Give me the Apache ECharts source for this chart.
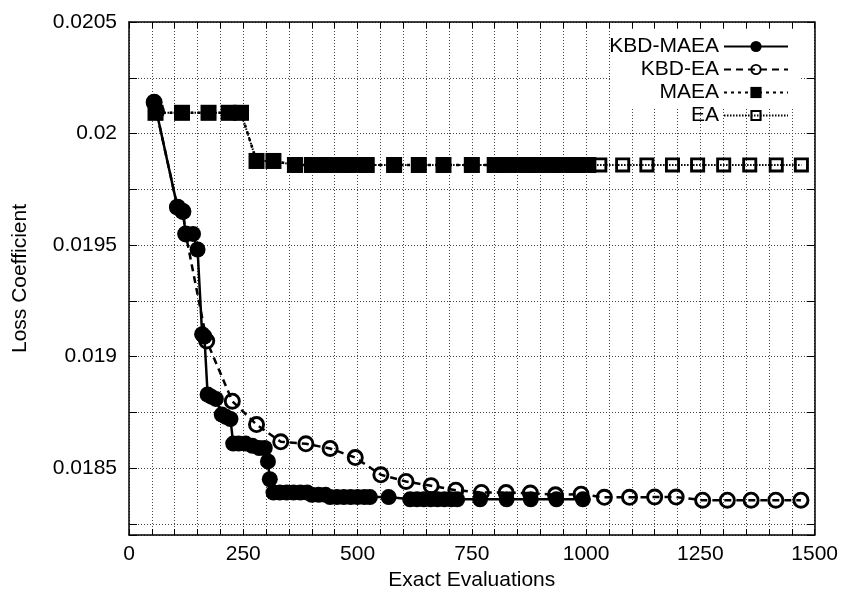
<!DOCTYPE html>
<html><head><meta charset="utf-8">
<script src="https://cdn.jsdelivr.net/npm/echarts@6/dist/echarts.min.js"></script>
<style>html,body{margin:0;padding:0;background:#fff}#c{width:841px;height:596px}</style>
</head><body><div id="c"></div>
<script>
// ---- data ----
const seriesNames = ['KBD-MAEA', 'KBD-EA', 'MAEA', 'EA'];
const xAxisTitle = 'Exact Evaluations';
const yAxisTitle = 'Loss Coefficient';
const xTickLabels = [0, 250, 500, 750, 1000, 1250, 1500];
const yTickLabels = [0.0185, 0.019, 0.0195, 0.02, 0.0205];

const kbdMaeaX = [55, 60, 106, 118, 124, 140, 150, 160, 165, 172, 180, 190, 203, 212, 222, 228, 240, 255, 270, 285, 297, 304, 308, 316, 330, 345, 360, 375, 390, 400, 415, 430, 440, 455, 470, 485, 500, 515, 527, 568, 615, 630, 645, 660, 675, 690, 705, 718, 768, 826, 879, 935, 993];
const kbdMaeaY = [0.02014, 0.02010, 0.01967, 0.01965, 0.01955, 0.01955, 0.01948, 0.01910, 0.01909, 0.01883, 0.01882, 0.01881, 0.01874, 0.01873, 0.01872, 0.01861, 0.01861, 0.01861, 0.01860, 0.01859, 0.01859, 0.01853, 0.01845, 0.01839, 0.01839, 0.01839, 0.01839, 0.01839, 0.01839, 0.01838, 0.01838, 0.01838, 0.01837, 0.01837, 0.01837, 0.01837, 0.01837, 0.01837, 0.01837, 0.01837, 0.01836, 0.01836, 0.01836, 0.01836, 0.01836, 0.01836, 0.01836, 0.01836, 0.01836, 0.01836, 0.01836, 0.01836, 0.01836];

const kbdEaX = [55, 60, 106, 118, 124, 170, 226, 279, 332, 387, 440, 495, 551, 606, 661, 715, 771, 825, 878, 933, 989, 1040, 1095, 1150, 1197, 1255, 1309, 1361, 1415, 1470];
const kbdEaY = [0.02014, 0.02010, 0.01967, 0.01965, 0.01955, 0.01907, 0.01880, 0.018695, 0.018618, 0.018609, 0.018588, 0.018547, 0.01847, 0.01844, 0.018421, 0.018401, 0.018391, 0.01839, 0.018388, 0.01838, 0.018383, 0.018369, 0.018369, 0.01837, 0.01837, 0.018356, 0.018356, 0.018356, 0.018356, 0.018356];

const maeaX = [58, 116, 174, 218, 245, 279, 316, 363, 400, 430, 460, 490, 520, 580, 634, 688, 750, 800, 830, 860, 890, 920, 950, 980, 1005];
const maeaY = [0.020093, 0.020093, 0.020093, 0.020093, 0.020093, 0.019877, 0.019877, 0.019859, 0.019859, 0.019859, 0.019859, 0.019859, 0.019859, 0.019859, 0.019859, 0.019859, 0.019859, 0.019859, 0.019859, 0.019859, 0.019859, 0.019859, 0.019859, 0.019859, 0.019859];

const eaX = [58, 116, 174, 218, 245, 279, 316, 363, 400, 430, 460, 490, 520, 580, 634, 688, 750, 800, 830, 860, 890, 920, 950, 980, 1005, 1030, 1080, 1133, 1189, 1244, 1301, 1358, 1416, 1471];
const eaY = [0.020093, 0.020093, 0.020093, 0.020093, 0.020093, 0.019877, 0.019877, 0.019859, 0.019859, 0.019859, 0.019859, 0.019859, 0.019859, 0.019859, 0.019859, 0.019859, 0.019859, 0.019859, 0.019859, 0.019859, 0.019859, 0.019859, 0.019859, 0.019859, 0.019859, 0.019859, 0.019859, 0.019859, 0.019859, 0.019859, 0.019859, 0.019859, 0.019859, 0.019859];

// ---- helpers ----
const zip = (xs, ys) => xs.map((x, i) => [x, ys[i]]);
const FONT = 'Liberation Sans';
const FS = 21;
const ringCircle = 'path://M0 -10A10 10 0 1 1 0 10A10 10 0 1 1 0 -10Z M0 -6.6A6.6 6.6 0 1 0 0 6.6A6.6 6.6 0 1 0 0 -6.6Z';
const ringSquare = 'path://M0 0H20V20H0Z M3.8 3.8V16.2H16.2V3.8Z';
const gridLine = { show: true, lineStyle: { color: '#444', width: 1, type: [1, 2] } };
const frameLine = { show: true, onZero: false, lineStyle: { color: '#000', width: 1.5 } };
const yMin = 0.0182, yMax = 0.0205, yStep = 0.00025;

const chart = echarts.init(document.getElementById('c'), null, { renderer: 'canvas' });
const base = { type: 'line', xAxisIndex: 0, yAxisIndex: 0, animation: false, itemStyle: { color: '#000' } };
chart.setOption({
  backgroundColor: '#fff',
  animation: false,
  textStyle: { fontFamily: FONT },
  grid: { left: 129, right: 26, top: 22, bottom: 60, containLabel: false },
  graphic: [
    { type: 'rect', left: 612, top: 29, z: 3.5, silent: true,
      shape: { width: 188, height: 80 }, style: { fill: '#fff' } }
  ],
  legend: {
    data: seriesNames,
    orient: 'vertical',
    align: 'right',
    right: 46,
    top: 34,
    itemWidth: 64,
    itemHeight: 14,
    itemGap: 2,
    padding: [2, 6, 4, 6],
    formatter: name => '{t|' + name + '}',
    textStyle: {
      fontFamily: FONT, fontSize: FS, color: '#000',
      rich: { t: { fontFamily: FONT, fontSize: FS, color: '#000', lineHeight: 15, height: 15 } }
    }
  },
  xAxis: [
    {
      type: 'value', position: 'bottom', min: 0, max: 1500, interval: 50,
      name: xAxisTitle, nameLocation: 'middle', nameGap: 35,
      nameTextStyle: { fontFamily: FONT, fontSize: FS, color: '#000' },
      axisLine: frameLine,
      axisTick: { show: true, inside: true, length: 6, lineStyle: { color: '#000', width: 1 } },
      axisLabel: { fontFamily: FONT, fontSize: FS, color: '#000', margin: 9,
        formatter: v => (xTickLabels.indexOf(Math.round(v)) >= 0 ? String(Math.round(v)) : '') },
      splitLine: gridLine
    },
    {
      type: 'value', position: 'top', min: 0, max: 1500, interval: 50,
      axisLine: frameLine,
      axisTick: { show: true, inside: true, length: 6, lineStyle: { color: '#000', width: 1 } },
      axisLabel: { show: false }, splitLine: { show: false }
    }
  ],
  yAxis: [
    { type: 'value', min: yMin, max: yMax, show: false, position: 'left' },
    {
      type: 'value', position: 'left', inverse: true, min: -yMax, max: -yMin, interval: yStep,
      name: yAxisTitle, nameLocation: 'middle', nameGap: 98, nameRotate: 90,
      nameTextStyle: { fontFamily: FONT, fontSize: FS, color: '#000' },
      axisLine: frameLine,
      axisTick: { show: true, inside: true, length: 8, lineStyle: { color: '#000', width: 1 } },
      axisLabel: { fontFamily: FONT, fontSize: FS, color: '#000', margin: 12,
        formatter: v => {
          const r = Math.round(-v * 1e5) / 1e5;
          return yTickLabels.some(t => Math.abs(t - r) < 1e-7) ? String(r) : '';
        } },
      splitLine: gridLine
    },
    {
      type: 'value', position: 'right', inverse: true, min: -yMax, max: -yMin, interval: yStep,
      axisLine: frameLine,
      axisTick: { show: true, inside: true, length: 8, lineStyle: { color: '#000', width: 1 } },
      axisLabel: { show: false }, splitLine: { show: false }
    }
  ],
  series: [
    Object.assign({}, base, {
      name: 'EA', z: 2, data: zip(eaX, eaY),
      symbol: ringSquare, symbolSize: 15, showAllSymbol: true,
      lineStyle: { color: '#000', width: 2, type: [1.5, 1.5] }
    }),
    Object.assign({}, base, {
      name: 'MAEA', z: 3, data: zip(maeaX, maeaY),
      symbol: 'rect', symbolSize: 16, showAllSymbol: true,
      lineStyle: { color: '#000', width: 2.5, type: [3, 4] }
    }),
    Object.assign({}, base, {
      name: 'KBD-MAEA', z: 4, data: zip(kbdMaeaX, kbdMaeaY),
      symbol: 'circle', symbolSize: 16, showAllSymbol: true,
      lineStyle: { color: '#000', width: 2.5, type: 'solid' }
    }),
    Object.assign({}, base, {
      name: 'KBD-EA', z: 5, data: zip(kbdEaX, kbdEaY),
      symbol: ringCircle, symbolSize: 17, showAllSymbol: true,
      lineStyle: { color: '#000', width: 2.5, type: [7, 5] }
    })
  ]
});
</script>
</body></html>
